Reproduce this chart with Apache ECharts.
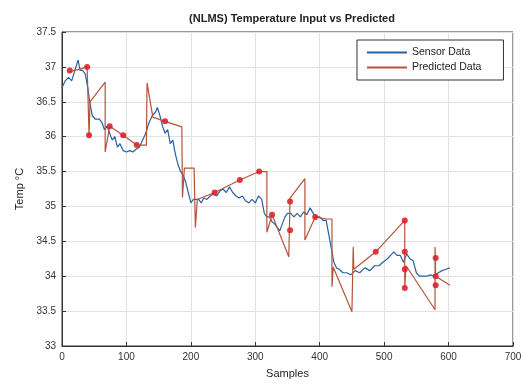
<!DOCTYPE html>
<html><head><meta charset="utf-8">
<script src="https://cdn.jsdelivr.net/npm/echarts@6/dist/echarts.min.js"></script>
<style>html,body{margin:0;padding:0;background:#fff}#c{width:525px;height:386px}</style>
</head><body><div id="c"></div>
<script>
const titleText = "(NLMS) Temperature Input vs Predicted";
const seriesNames = ["Sensor Data", "Predicted Data"];
const xTicks = [0, 100, 200, 300, 400, 500, 600, 700];
const yTicks = [33, 33.5, 34, 34.5, 35, 35.5, 36, 36.5, 37, 37.5];

const sensorData = [
[0,36.7],[5,36.8],[10,36.85],[15,36.8],[20,36.95],[25,37.1],[28,36.95],[32,36.95],[36,36.9],[40,36.7],[43,36.5],[47,36.3],[52,36.25],[58,36.25],[62,36.2],[66,36.1],[70,36.15],[74,36.05],[78,35.95],[82,36.0],[86,35.85],[90,35.9],[95,35.8],[100,35.78],[105,35.8],[110,35.78],[115,35.82],[120,35.85],[125,35.95],[130,36.05],[135,36.2],[140,36.3],[145,36.35],[148,36.42],[152,36.3],[156,36.15],[160,36.05],[164,36.1],[168,35.9],[172,35.95],[176,35.75],[180,35.6],[184,35.5],[188,35.45],[192,35.35],[196,35.2],[200,35.05],[204,35.1],[208,35.1],[212,35.1],[216,35.05],[220,35.12],[225,35.1],[230,35.15],[235,35.18],[240,35.15],[245,35.22],[250,35.25],[255,35.2],[260,35.28],[265,35.2],[270,35.15],[275,35.12],[280,35.15],[285,35.08],[290,35.05],[295,35.1],[300,35.05],[305,35.15],[310,35.1],[314,34.9],[318,34.85],[322,34.85],[326,34.78],[330,34.75],[334,34.7],[338,34.65],[342,34.75],[346,34.85],[350,34.9],[355,34.9],[360,34.85],[365,34.9],[370,34.85],[375,34.92],[380,34.88],[385,34.98],[390,34.9],[395,34.85],[400,34.85],[405,34.8],[410,34.8],[414,34.6],[418,34.4],[422,34.2],[426,34.12],[430,34.1],[436,34.05],[442,34.05],[448,34.02],[455,34.08],[462,34.05],[470,34.12],[478,34.08],[485,34.15],[492,34.15],[498,34.2],[505,34.25],[510,34.3],[515,34.35],[520,34.3],[525,34.3],[530,34.2],[535,34.32],[540,34.25],[545,34.22],[550,34.05],[555,34.0],[560,34.0],[566,34.0],[572,34.02],[578,34.0],[584,34.05],[590,34.08],[596,34.1],[602,34.12]
];

const predictedData = [
[10,36.93],[25,36.96],[39,37.0],[41,37.0],[42,36.02],[43.5,36.5],[67,36.78],[67,35.78],[74,36.15],[95,36.02],[116,35.88],[131,35.88],[132,36.77],[141,36.28],[160,36.22],[186,36.14],[187,35.13],[190,35.55],[205,35.55],[207,34.7],[210,35.1],[237,35.2],[276,35.38],[306,35.5],[318,35.5],[318,34.63],[326,34.88],[352,34.28],[354,35.12],[377,35.4],[377,34.52],[393,34.85],[410,34.82],[419,34.82],[419,33.85],[421,34.13],[450,33.49],[452,34.42],[453,34.1],[487,34.35],[532,34.8],[532,33.83],[534,34.15],[579,33.52],[579,34.42],[580,34.0],[602,33.87]
];

const predictedMarkers = [
[12,36.95],[39,37.0],[42,36.02],[74,36.15],[95,36.02],[116,35.88],[160,36.22],[237,35.2],[276,35.38],[306,35.5],[326,34.88],[354,34.66],[354,35.07],[393,34.85],[487,34.35],[532,34.8],[532,34.35],[532,34.1],[532,33.83],[580,34.26],[580,34.0],[580,33.87]
];

const chart = echarts.init(document.getElementById('c'), null, {renderer:'canvas'});
chart.setOption({
  animation:false,
  backgroundColor:'#fff',
  title:{text:titleText,left:287,top:8,textAlign:'center',
    textStyle:{fontFamily:'Liberation Sans, Arial',fontSize:11,fontWeight:'bold',color:'#222'}},
  grid:{left:62,right:12,top:32,bottom:40,show:true,borderColor:'#333',borderWidth:1,backgroundColor:'transparent'},
  legend:{data:seriesNames,left:357,top:40,orient:'vertical',itemGap:4,itemWidth:40,itemHeight:2,icon:'rect',
    borderColor:'#333',borderWidth:1,padding:[7,22,7,10],backgroundColor:'#fff',
    textStyle:{fontFamily:'Liberation Sans, Arial',fontSize:10.5,color:'#222'}},
  xAxis:{type:'value',min:xTicks[0],max:xTicks[xTicks.length-1],interval:100,
    name:'Samples',nameLocation:'middle',nameGap:22,
    nameTextStyle:{fontFamily:'Liberation Sans, Arial',fontSize:11,color:'#222'},
    axisLine:{show:true,lineStyle:{color:'#333'}},axisTick:{show:true,inside:true,length:4,lineStyle:{color:'#333'}},
    axisLabel:{fontFamily:'Liberation Sans, Arial',fontSize:10,color:'#333',margin:6},
    splitLine:{show:true,lineStyle:{color:'#e2e2e2'}}},
  yAxis:{type:'value',min:yTicks[0],max:yTicks[yTicks.length-1],interval:0.5,
    name:'Temp °C',nameLocation:'middle',nameGap:36,nameRotate:90,
    nameTextStyle:{fontFamily:'Liberation Sans, Arial',fontSize:11,color:'#222'},
    axisLine:{show:true,lineStyle:{color:'#333'}},axisTick:{show:true,inside:true,length:4,lineStyle:{color:'#333'}},
    axisLabel:{fontFamily:'Liberation Sans, Arial',fontSize:10,color:'#333',margin:6,formatter:v=>String(v)},
    splitLine:{show:true,lineStyle:{color:'#e2e2e2'}}},
  series:[
    {name:seriesNames[0],type:'line',data:sensorData,symbol:'none',lineStyle:{color:'#2a62a0',width:1.2},itemStyle:{color:'#2a62a0'},z:3},
    {name:seriesNames[1],type:'line',data:predictedData,symbol:'none',lineStyle:{color:'#b5533a',width:1.2},itemStyle:{color:'#b5533a'},z:4},
    {name:'markers',type:'scatter',data:predictedMarkers,symbol:'circle',symbolSize:6,itemStyle:{color:'#e0222c',opacity:0.9},z:5}
  ]
});
</script></body></html>
